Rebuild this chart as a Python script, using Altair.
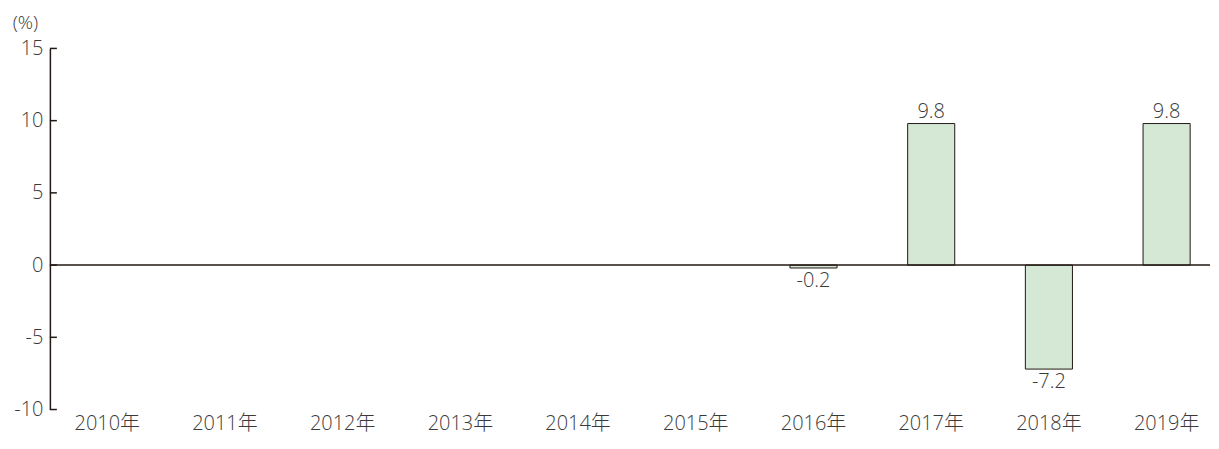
import altair as alt
import pandas as pd

years = ["2010年", "2011年", "2012年", "2013年", "2014年", "2015年",
         "2016年", "2017年", "2018年", "2019年"]
values = [None, None, None, None, None, None, -0.2, 9.8, -7.2, 9.8]
y_ticks = [-10, -5, 0, 5, 10, 15]

FONT = "Open Sans, Noto Sans CJK JP"
TEXT = "#3a3a3a"
DARK = "#231815"
FS = 20

df = pd.DataFrame({"year": years, "value": values})
ticks_df = pd.DataFrame({"t": y_ticks})

x_enc = alt.X("year:N", sort=years,
              scale=alt.Scale(range=[-1.5, 1178.5], paddingInner=0.6, paddingOuter=0.3),
              axis=alt.Axis(title=None, labelAngle=0, ticks=False, domain=False,
                            labelFont=FONT, labelFontSize=FS, labelFontWeight=300,
                            labelColor=TEXT, labelPadding=4))
y_scale = alt.Scale(domain=[-10, 15], nice=False)

bars = alt.Chart(df).mark_bar(fill="#d5e8d5", stroke=DARK, strokeWidth=1).encode(
    x=x_enc,
    y=alt.Y("value:Q", scale=y_scale,
            axis=alt.Axis(values=y_ticks, ticks=False, grid=False,
                          domainColor=DARK, domainWidth=1.5,
                          labelFont=FONT, labelFontSize=FS, labelFontWeight=300,
                          labelColor=TEXT, labelPadding=7,
                          labelExpr="'' + datum.value",
                          title="(%)", titleAngle=0, titleFont=FONT,
                          titleFontSize=19, titleFontWeight=300,
                          titleColor=TEXT, titleAlign="center",
                          titleBaseline="top", titleX=-25, titleY=-35)),
)

label_expr = "replace(format(datum.value, '.1f'), '\u2212', '-')"

pos_text = alt.Chart(df).transform_filter("datum.value >= 0").transform_calculate(
    lab=label_expr
).mark_text(
    font=FONT, fontSize=FS, fontWeight=300, color=TEXT, baseline="bottom", dy=-2
).encode(x=alt.X("year:N", sort=years), y=alt.Y("value:Q", scale=y_scale),
         text="lab:N")

neg_text = alt.Chart(df).transform_filter("datum.value < 0").transform_calculate(
    lab=label_expr
).mark_text(
    font=FONT, fontSize=FS, fontWeight=300, color=TEXT, baseline="top", dy=3
).encode(x=alt.X("year:N", sort=years), y=alt.Y("value:Q", scale=y_scale),
         text="lab:N")

zero = alt.Chart(pd.DataFrame({"z": [0]})).mark_rule(color=DARK, strokeWidth=1.5).encode(
    y=alt.Y("z:Q", scale=y_scale))

tick_marks = alt.Chart(ticks_df).mark_rule(color=DARK, strokeWidth=1.5).encode(
    y=alt.Y("t:Q", scale=y_scale), x=alt.value(0), x2=alt.value(7))

chart = alt.layer(bars, zero, tick_marks, pos_text, neg_text).properties(
    width=1206, height=426,
    autosize=alt.AutoSizeParams(type="fit", contains="padding"),
    padding={"left": 4, "top": 5, "right": 0, "bottom": 0},
    background="white",
).configure_view(strokeWidth=0, stroke="transparent")

chart.save("out.html", embed_options={"renderer": "svg", "actions": False})
